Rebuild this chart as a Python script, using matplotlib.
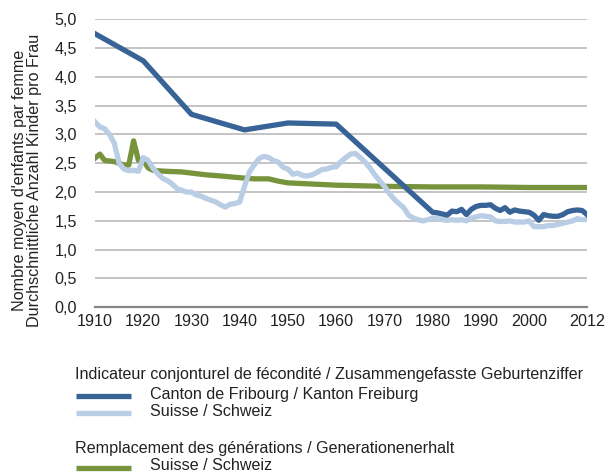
import numpy as np
import matplotlib.pyplot as plt
from matplotlib.lines import Line2D

plt.rcParams['font.family'] = ['Liberation Sans', 'DejaVu Sans']

# Canton de Fribourg
fr_years = [1910, 1920, 1930, 1941, 1950, 1960, 1980, 1981, 1982, 1983, 1984, 1985,
            1986, 1987, 1988, 1989, 1990, 1991, 1992, 1993, 1994, 1995, 1996, 1997,
            1998, 1999, 2000, 2001, 2002, 2003, 2004, 2005, 2006, 2007, 2008, 2009,
            2010, 2011, 2012]
fr_values = [4.75, 4.28, 3.35, 3.08, 3.20, 3.18, 1.65, 1.64, 1.62, 1.60, 1.67, 1.66,
             1.70, 1.61, 1.70, 1.75, 1.77, 1.77, 1.78, 1.72, 1.68, 1.73, 1.65, 1.69,
             1.67, 1.66, 1.65, 1.60, 1.51, 1.61, 1.59, 1.58, 1.58, 1.61, 1.66, 1.68,
             1.69, 1.68, 1.61]

# Suisse
ch_years = list(range(1910, 2013))
ch_values = [3.22, 3.13, 3.10, 3.00, 2.85, 2.50, 2.40, 2.37, 2.38, 2.36,
             2.60, 2.55, 2.42, 2.32, 2.24, 2.20, 2.14, 2.06, 2.03, 2.00,
             2.00, 1.95, 1.93, 1.89, 1.86, 1.83, 1.78, 1.74, 1.79, 1.80,
             1.83, 2.10, 2.35, 2.47, 2.58, 2.62, 2.60, 2.55, 2.52, 2.43,
             2.40, 2.31, 2.33, 2.29, 2.28, 2.30, 2.34, 2.39, 2.40, 2.43,
             2.44, 2.53, 2.60, 2.66, 2.67, 2.60, 2.52, 2.42, 2.30, 2.20,
             2.10, 1.98, 1.88, 1.80, 1.73, 1.60, 1.55, 1.52, 1.50, 1.52,
             1.55, 1.54, 1.52, 1.51, 1.52, 1.51, 1.52, 1.50, 1.55, 1.57,
             1.59, 1.58, 1.57, 1.50, 1.49, 1.49, 1.50, 1.48, 1.48, 1.48,
             1.50, 1.40, 1.40, 1.40, 1.42, 1.42, 1.44, 1.46, 1.48, 1.50,
             1.54, 1.52, 1.53]

# Remplacement des générations
rep_years = [1910, 1911, 1912, 1913, 1914, 1915, 1916, 1917, 1918, 1919, 1920, 1921,
             1922, 1923, 1925, 1928, 1930, 1933, 1936, 1940, 1943, 1946, 1948, 1950,
             1955, 1960, 1965, 1970, 1980, 1990, 2000, 2012]
rep_values = [2.59, 2.66, 2.55, 2.54, 2.53, 2.50, 2.47, 2.47, 2.89, 2.55, 2.56, 2.42,
              2.38, 2.37, 2.36, 2.35, 2.33, 2.30, 2.28, 2.25, 2.23, 2.23, 2.19, 2.16,
              2.14, 2.12, 2.11, 2.10, 2.09, 2.09, 2.08, 2.08]

x_ticks = [1910, 1920, 1930, 1940, 1950, 1960, 1970, 1980, 1990, 2000, 2012]
y_ticks = [0.0, 0.5, 1.0, 1.5, 2.0, 2.5, 3.0, 3.5, 4.0, 4.5, 5.0]
y_labels = ['0,0', '0,5', '1,0', '1,5', '2,0', '2,5', '3,0', '3,5', '4,0', '4,5', '5,0']

c_fr = '#386396'
c_ch = '#b9cde5'
c_rep = '#77933c'
fs = 11.6
tc = '#222222'

fig = plt.figure(figsize=(6.05, 4.74), dpi=100)
ax = fig.add_axes([95 / 605, 1 - 307.3 / 474, 492 / 605, 288 / 474])

ax.plot(rep_years, rep_values, color=c_rep, lw=3.8, zorder=3)
ax.plot(ch_years, ch_values, color=c_ch, lw=3.8, zorder=4)
ax.plot(fr_years, fr_values, color=c_fr, lw=3.8, zorder=5)

ax.set_xlim(1910, 2012)
ax.set_ylim(0, 5)
ax.set_xticks(x_ticks)
ax.set_yticks(y_ticks)
ax.set_yticklabels(y_labels)
ax.tick_params(length=0, labelsize=fs, colors=tc)
ax.tick_params(axis='x', pad=5)
ax.tick_params(axis='y', pad=13)
ax.grid(axis='y', color='#bfbfbf', lw=1.3)
ax.set_axisbelow(True)
for s in ['top', 'right', 'left']:
    ax.spines[s].set_visible(False)
ax.spines['bottom'].set_color('#868686')
ax.spines['bottom'].set_linewidth(1.6)
ax.spines['bottom'].set_zorder(2)

fig.text(27 / 605, 1 - 180 / 474,
         "Nombre moyen d'enfants par femme\nDurchschnittliche Anzahl Kinder pro Frau",
         rotation=90, ha='center', va='center', fontsize=fs, color=tc,
         linespacing=1.0)

# légende
def leg_line(y, color):
    fig.add_artist(Line2D([76 / 605, 131 / 605], [1 - y / 474, 1 - y / 474],
                          color=color, lw=3.8, solid_capstyle='butt'))

fig.text(75 / 605, 1 - 375 / 474,
         'Indicateur conjonturel de fécondité / Zusammengefasste Geburtenziffer',
         ha='left', va='center', fontsize=fs, color=tc)
leg_line(396, c_fr)
fig.text(150 / 605, 1 - 394 / 474, 'Canton de Fribourg / Kanton Freiburg',
         ha='left', va='center', fontsize=fs, color=tc)
leg_line(413, c_ch)
fig.text(150 / 605, 1 - 412 / 474, 'Suisse / Schweiz',
         ha='left', va='center', fontsize=fs, color=tc)

fig.text(75 / 605, 1 - 449 / 474,
         'Remplacement des générations / Generationenerhalt',
         ha='left', va='center', fontsize=fs, color=tc)
leg_line(468, c_rep)
fig.text(150 / 605, 1 - 466 / 474, 'Suisse / Schweiz',
         ha='left', va='center', fontsize=fs, color=tc)

fig.savefig('out.png', dpi=100)
